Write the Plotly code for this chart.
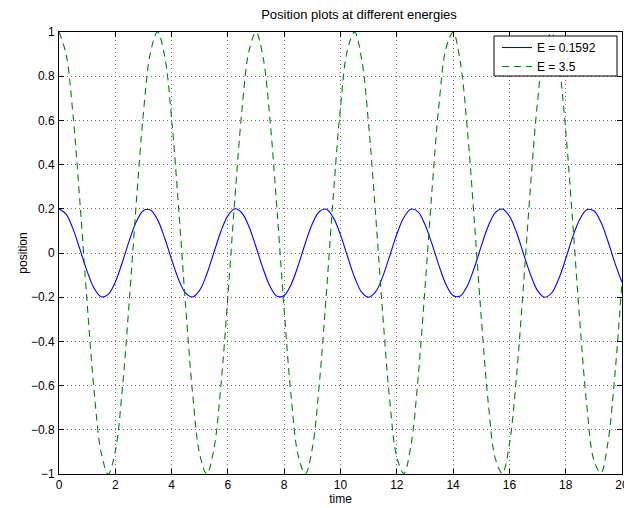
import plotly.graph_objects as go

# time samples (step 0.25 from 0 to 20)
time = [i * 0.25 for i in range(81)]

# E = 0.1592 (blue, solid) position values
pos_low = [
    0.200, 0.176, 0.108, 0.014, -0.083, -0.160, -0.198, -0.187, -0.131, -0.042,
    0.057, 0.142, 0.192, 0.195, 0.151, 0.069, -0.029, -0.120, -0.182, -0.199,
    -0.168, -0.095, 0.001, 0.097, 0.169, 0.200, 0.181, 0.119, 0.027, -0.071,
    -0.152, -0.196, -0.192, -0.141, -0.055, 0.044, 0.132, 0.188, 0.198, 0.159,
    0.082, -0.016, -0.110, -0.177, -0.200, -0.175, -0.107, -0.012, 0.085, 0.161,
    0.198, 0.187, 0.129, 0.041, -0.058, -0.143, -0.192, -0.195, -0.150, -0.068,
    0.031, 0.122, 0.183, 0.199, 0.167, 0.094, -0.003, -0.098, -0.170, -0.200,
    -0.181, -0.118, -0.026, 0.073, 0.153, 0.196, 0.191, 0.140, 0.053, -0.046,
    -0.133,
]

# E = 3.5 (green, dashed) position values
pos_high = [
    1.000, 0.900, 0.622, 0.219, -0.227, -0.628, -0.904, -1.000, -0.897, -0.615,
    -0.211, 0.235, 0.635, 0.908, 1.000, 0.893, 0.608, 0.203, -0.244, -0.641,
    -0.911, -1.000, -0.889, -0.602, -0.194, 0.252, 0.648, 0.915, 0.999, 0.885,
    0.595, 0.186, -0.260, -0.654, -0.918, -0.999, -0.882, -0.588, -0.178, 0.268,
    0.660, 0.921, 0.999, 0.877, 0.581, 0.169, -0.276, -0.667, -0.924, -0.998,
    -0.873, -0.575, -0.161, 0.284, 0.673, 0.927, 0.998, 0.869, 0.568, 0.153,
    -0.292, -0.679, -0.930, -0.997, -0.865, -0.561, -0.145, 0.300, 0.685, 0.934,
    0.996, 0.861, 0.554, 0.136, -0.308, -0.691, -0.936, -0.995, -0.857, -0.547,
    -0.128,
]

names = ["E = 0.1592", "E = 3.5"]
x_ticks = list(range(0, 21, 2))
y_ticks = [-1, -0.8, -0.6, -0.4, -0.2, 0, 0.2, 0.4, 0.6, 0.8, 1]

FONT = "Liberation Sans, Arial, Helvetica, sans-serif"

# page body has an 8px default margin, so the figure is sized/margined to compensate
W, H = 624, 500
ML, MR, MT, MB = 51, 10, 24, 34
PW, PH = W - ML - MR, H - MT - MB


def px_x(p):  # page pixel -> paper x
    return (p - 8 - ML) / PW


def px_y(p):  # page pixel -> paper y
    return (H - MB + 8 - p) / PH


fig = go.Figure()
fig.add_trace(go.Scatter(
    x=time, y=pos_low, mode="lines", name=names[0],
    line=dict(color="#0000ff", width=1.1, shape="spline", smoothing=1.0),
))
fig.add_trace(go.Scatter(
    x=time, y=pos_high, mode="lines", name=names[1],
    line=dict(color="#008000", width=1.1, dash="7px,5px", shape="spline", smoothing=1.0),
))

axis_common = dict(
    showline=True, linecolor="black", linewidth=1, mirror="ticks",
    ticks="inside", ticklen=5, tickcolor="black", tickwidth=1,
    showgrid=True, gridcolor="#6f6f6f", griddash="1px,3px", gridwidth=1,
    zeroline=False, tickfont=dict(family=FONT, size=12, color="black"),
    automargin=False,
)

fig.update_layout(
    width=W, height=H,
    margin=dict(l=ML, r=MR, t=MT, b=MB),
    paper_bgcolor="white", plot_bgcolor="white",
    font=dict(family=FONT, size=12, color="black"),
    title=dict(text="Position plots at different energies",
               x=(ML + (W - MR)) / 2 / W, xanchor="center", xref="paper",
               y=1 - 6 / H, yanchor="middle",
               font=dict(family=FONT, size=13, color="black")),
    xaxis=dict(range=[0, 20], tickvals=x_ticks, ticktext=[str(v) for v in x_ticks],
               title=dict(text="time", font=dict(family=FONT, size=12), standoff=0),
               **axis_common),
    yaxis=dict(range=[-1, 1], tickvals=y_ticks,
               ticktext=[("\u2212" if v < 0 else "") + f"{abs(v):g}" for v in y_ticks],
               title=dict(text="position", font=dict(family=FONT, size=12), standoff=0),
               ticklabelstandoff=1,
               **axis_common),
    legend=dict(x=px_x(497), y=px_y(33), xanchor="left", yanchor="top",
                bgcolor="rgba(0,0,0,0)", borderwidth=0,
                font=dict(family=FONT, size=12, color="black"),
                tracegroupgap=0),
    shapes=[dict(type="rect", xref="paper", yref="paper",
                 x0=px_x(494), x1=px_x(617), y0=px_y(76), y1=px_y(36),
                 fillcolor="white", line=dict(color="black", width=1), layer="above")],
    showlegend=True,
)

fig.write_html("out.html")
